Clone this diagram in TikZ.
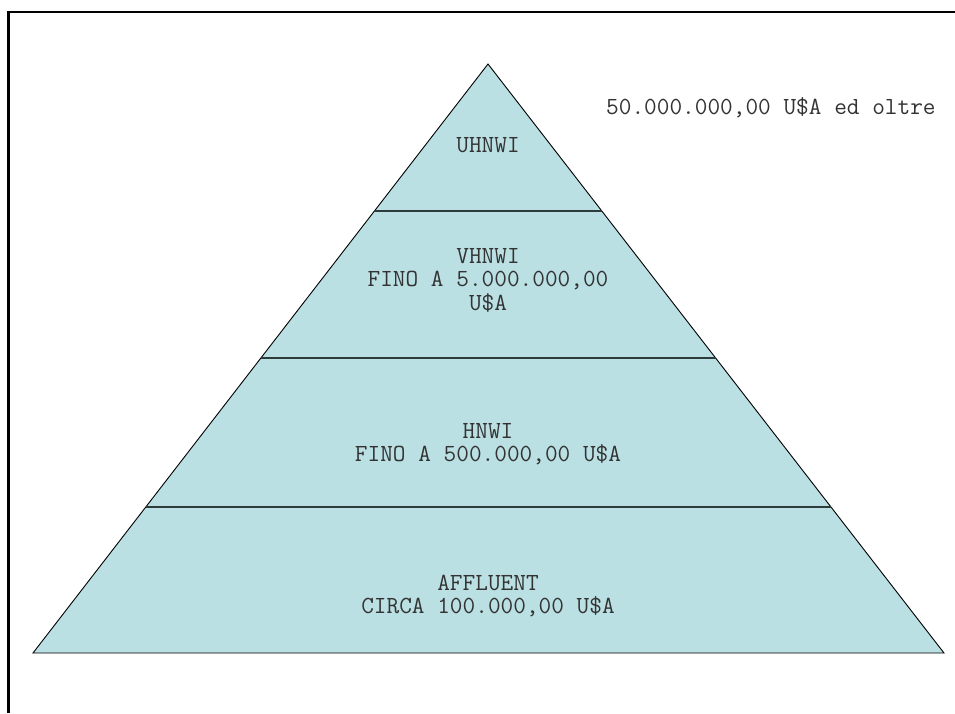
\documentclass[tikz,border=0pt]{standalone}
\usetikzlibrary{calc}
\definecolor{pyrfill}{HTML}{BBE0E3}
\definecolor{txtgray}{HTML}{333333}
\definecolor{divgray}{HTML}{2E3B3B}
\begin{document}
\begin{tikzpicture}[x=1pt,y=-1pt,
  lbl/.style={align=center,text=txtgray,inner sep=0pt,
    font=\ttfamily\fontsize{24.6}{23.5}\selectfont},
  divider/.style={draw=divgray,line width=1.8pt},
  frameline/.style={draw=black,line width=2.2pt}]
\useasboundingbox (0,0) rectangle (955,713);
% frame
\draw[frameline] (8.5,713) -- (8.5,12) -- (955,12);
% pyramid
\coordinate (apex) at (488,64);
\coordinate (bl) at (33,653);
\coordinate (br) at (944,653);
\filldraw[fill=pyrfill,draw=black,line width=0.9pt] (apex) -- (br) -- (bl) -- cycle;
% dividers
\foreach \yy in {211,358,507}{
  \pgfmathsetmacro{\tt}{(\yy-64)/589}
  \draw[divider] ($(apex)!\tt!(bl)$) -- ($(apex)!\tt!(br)$);
}
% labels
\node[lbl] (uhnwi) at (488,145) {UHNWI};
\node[lbl] (vhnwi) at (488,280) {VHNWI\\FINO A 5.000.000,00\\U\$A};
\node[lbl] (hnwi) at (488,444) {HNWI\\FINO A 500.000,00 U\$A};
\node[lbl] (affl) at (488,596) {AFFLUENT\\CIRCA 100.000,00 U\$A};
\node[lbl,anchor=west] (top) at (606,108) {50.000.000,00 U\$A ed oltre};
\end{tikzpicture}
\end{document}
